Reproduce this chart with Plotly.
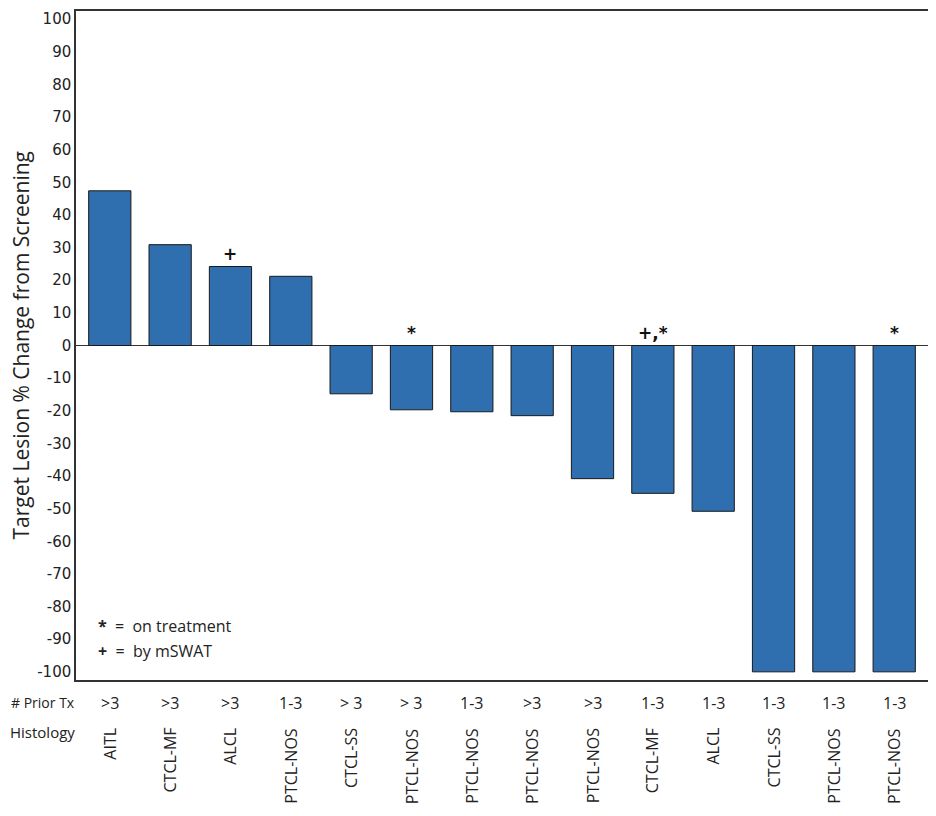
import plotly.graph_objects as go

histology = ["AITL", "CTCL-MF", "ALCL", "PTCL-NOS", "CTCL-SS", "PTCL-NOS", "PTCL-NOS",
             "PTCL-NOS", "PTCL-NOS", "CTCL-MF", "ALCL", "CTCL-SS", "PTCL-NOS", "PTCL-NOS"]
prior_tx = [">3", ">3", ">3", "1-3", "> 3", "> 3", "1-3", ">3", ">3", "1-3", "1-3", "1-3", "1-3", "1-3"]
pct_change = [47.4, 30.9, 24.2, 21.2, -14.8, -19.7, -20.3, -21.5, -40.8, -45.3, -50.8, -100, -100, -100]
flags = ["", "", "+", "", "", "*", "", "", "", "+,*", "", "", "", "*"]
y_ticks = list(range(-100, 101, 10))

# page is offset by 8px body margin
OFF = 8
W, H = 936 - OFF, 816 - OFF
L, R, T, B = 76 - OFF, 8, 9 - OFF, 136
pw = W - L - R
ph = H - T - B
bottom = T + ph  # figure coords of plot bottom


def py(page_y):
    """page y pixel -> paper y"""
    return -((page_y - OFF) - bottom) / ph


def px(page_x):
    return ((page_x - OFF) - L) / pw


xs = list(range(len(histology)))
fig = go.Figure()
fig.add_trace(go.Bar(
    x=xs, y=pct_change, width=0.70,
    marker=dict(color="#2F6EAF", line=dict(color="#1a1a1a", width=1)),
    showlegend=False, hoverinfo="skip",
))

font = "Open Sans, Arial, sans-serif"
ann = []
for i, f in enumerate(flags):
    if f:
        ann.append(dict(x=i, y=max(pct_change[i], 0), xref="x", yref="y", text="<b>" + f + "</b>",
                        showarrow=False, yanchor="bottom", yshift=1,
                        font=dict(family="DejaVu Sans, sans-serif", size=17, color="#111")))
for i in xs:
    ann.append(dict(x=i, y=py(703), xref="x", yref="paper", text=prior_tx[i],
                    showarrow=False, yanchor="middle", xanchor="center",
                    font=dict(family=font, size=16, color="#222")))
    ann.append(dict(x=i, y=py(726), xref="x", yref="paper", text=histology[i],
                    showarrow=False, yanchor="top", xanchor="center", textangle=-90,
                    font=dict(family=font, size=16, color="#222")))
ann.append(dict(x=px(77), y=py(703), xref="paper", yref="paper",
                text="# Prior Tx", showarrow=False, xanchor="right", yanchor="middle",
                font=dict(family=font, size=14, color="#222")))
ann.append(dict(x=px(77), y=py(732), xref="paper", yref="paper",
                text="Histology", showarrow=False, xanchor="right", yanchor="middle",
                font=dict(family=font, size=15, color="#222")))
ann.append(dict(x=px(20), y=0.5, xref="paper", yref="paper",
                text="Target Lesion % Change from Screening", showarrow=False, textangle=-90,
                xanchor="center", yanchor="middle",
                font=dict(family=font, size=21, color="#222")))
ann.append(dict(x=px(96), y=-100 + (672 - 626) / 3.275, xref="paper", yref="y",
                text="<b>*</b>  =  on treatment", showarrow=False, xanchor="left", yanchor="middle",
                font=dict(family=font, size=16, color="#222")))
ann.append(dict(x=px(96), y=-100 + (672 - 651) / 3.275, xref="paper", yref="y",
                text="<b>+</b>  =  by mSWAT", showarrow=False, xanchor="left", yanchor="middle",
                font=dict(family=font, size=16, color="#222")))

fig.update_layout(
    width=W, height=H,
    margin=dict(l=L, r=R, t=T, b=B),
    plot_bgcolor="white", paper_bgcolor="white",
    annotations=ann,
    xaxis=dict(range=[-0.56, 13.56], showticklabels=False, showgrid=False, zeroline=False,
               showline=True, linecolor="#333", linewidth=1.5, mirror=True, ticks=""),
    yaxis=dict(range=[-102.5, 102.5], tickvals=y_ticks, ticktext=[str(v) for v in y_ticks],
               showgrid=False, zeroline=True, zerolinecolor="#333", zerolinewidth=1,
               showline=True, linecolor="#333", linewidth=1.5, mirror=True, ticks="",
               tickfont=dict(family="DejaVu Sans, sans-serif", size=15, color="#222")),
)
fig.write_html("out.html")
